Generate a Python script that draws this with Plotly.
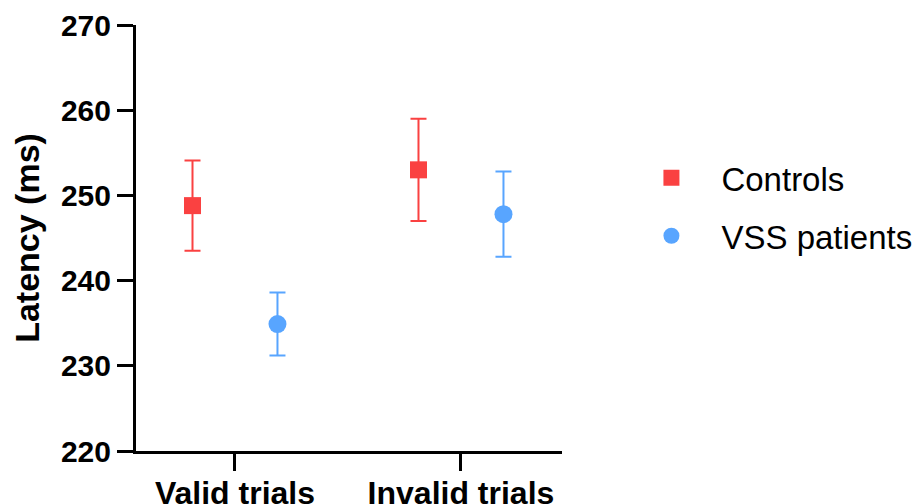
import plotly.graph_objects as go

categories = ["Valid trials", "Invalid trials"]
series_names = ["Controls", "VSS patients"]
controls_mean = [248.8, 253.0]
controls_err = [5.3, 6.0]
vss_mean = [234.9, 247.8]
vss_err = [3.7, 5.0]
y_ticks = [220, 230, 240, 250, 260, 270]

RED = "#FA4141"
BLUE = "#58A5FF"
FONT = "Arial, Liberation Sans, sans-serif"
offset = 0.188

idx = list(range(len(categories)))

fig = go.Figure()
fig.add_trace(go.Scatter(
    x=[i - offset for i in idx], y=controls_mean, name=series_names[0], mode="markers",
    legendgroup="c",
    marker=dict(symbol="square", size=17, color=RED),
    error_y=dict(type="data", array=controls_err, visible=True, color=RED, thickness=2, width=8),
))
fig.add_trace(go.Scatter(
    x=[i + offset for i in idx], y=vss_mean, name=series_names[1], mode="markers",
    legendgroup="v",
    marker=dict(symbol="circle", size=18, color=BLUE),
    error_y=dict(type="data", array=vss_err, visible=True, color=BLUE, thickness=2, width=8),
))

fig.update_layout(
    width=920, height=504,
    margin=dict(l=128, r=366, t=17, b=61, autoexpand=False),
    paper_bgcolor="white", plot_bgcolor="white",
    font=dict(family=FONT, color="black"),
    showlegend=True,
    legend=dict(x=1.1395, y=0.573, xanchor="left", yanchor="middle",
                font=dict(size=33, family=FONT, color="black"),
                itemwidth=90, tracegroupgap=12, bgcolor="rgba(0,0,0,0)"),
)
fig.update_xaxes(
    range=[-0.438, 1.447], tickmode="array", tickvals=idx, ticktext=categories,
    showline=True, linecolor="black", linewidth=3, showgrid=False, zeroline=False,
    ticks="outside", ticklen=17, tickwidth=3, tickcolor="black", automargin=False,
    ticklabelstandoff=-5,
    tickfont=dict(size=32, family=FONT, color="black", weight="bold"),
)
fig.update_yaxes(
    range=[220, 270], tickmode="array", tickvals=y_ticks,
    showline=True, linecolor="black", linewidth=3, showgrid=False, zeroline=False,
    ticks="outside", ticklen=16, tickwidth=3, tickcolor="black", automargin=False,
    tickfont=dict(size=30, family=FONT, color="black", weight="bold"),
    title=dict(text="Latency (ms)", font=dict(size=34, family=FONT, color="black", weight="bold"), standoff=13),
)

fig.write_html("out.html")
